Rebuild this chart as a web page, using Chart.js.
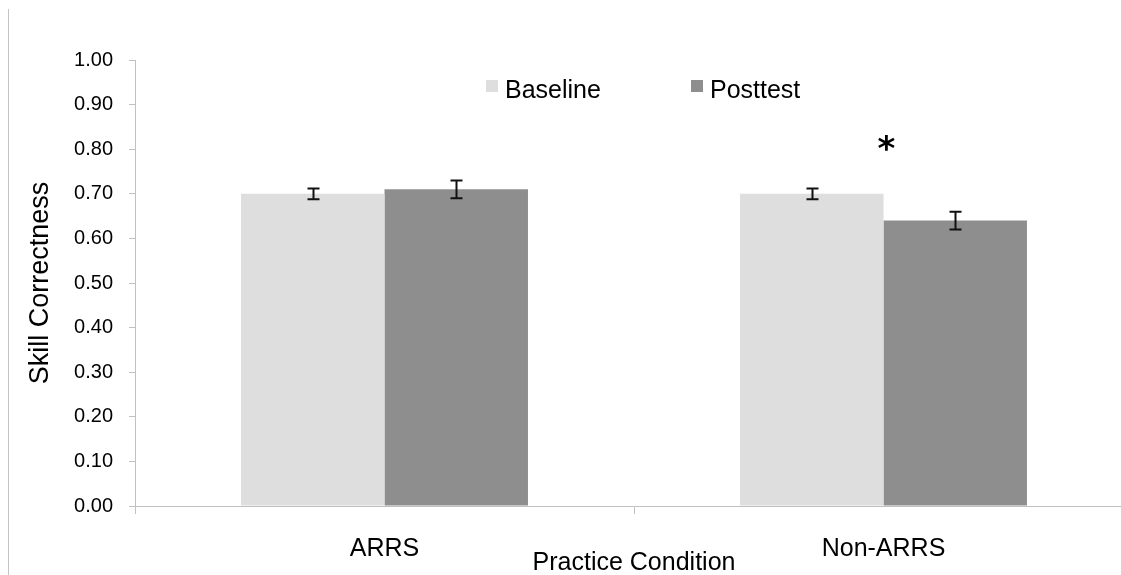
<!DOCTYPE html>
<html>
<head>
<meta charset="utf-8">
<script src="https://cdn.jsdelivr.net/npm/chart.js@4"></script>
<style>
  html, body { margin: 0; padding: 0; background: #fff; overflow: hidden; width: 1121px; height: 575px; }
  #wrap { position: relative; width: 1121px; height: 575px; overflow: hidden; }
  #frame { position: absolute; left: 8px; top: 9px; width: 0; height: 570px; border-left: 1px solid #c4c4c4; }
  canvas { position: absolute; left: 0; top: 0; }
</style>
</head>
<body>
<div id="wrap">
  <div id="frame"></div>
  <canvas id="c" width="1135" height="575"></canvas>
</div>
<script>
// ---- data ----
const categories = ['ARRS', 'Non-ARRS'];
const seriesNames = ['Baseline', 'Posttest'];
const baselineValues = [0.70, 0.70];
const baselineErrors = [0.012, 0.012];
const posttestValues = [0.71, 0.64];
const posttestErrors = [0.02, 0.02];
const yTickValues = [0, 0.1, 0.2, 0.3, 0.4, 0.5, 0.6, 0.7, 0.8, 0.9, 1.0];
const significanceMarks = [{ category: 'Non-ARRS', value: 0.81, text: '*' }];

const FONT = "'Liberation Sans', Arial, sans-serif";

const errorBarPlugin = {
  id: 'errorBars',
  afterDatasetsDraw(chart) {
    const ctx = chart.ctx;
    const y = chart.scales.y;
    ctx.save();
    ctx.strokeStyle = '#111';
    ctx.lineWidth = 2;
    chart.data.datasets.forEach((ds, i) => {
      const meta = chart.getDatasetMeta(i);
      meta.data.forEach((bar, j) => {
        const v = ds.data[j], e = ds.errors[j];
        const x = Math.round(bar.x) + 0.5;
        const yt = y.getPixelForValue(v + e), yb = y.getPixelForValue(v - e);
        ctx.beginPath();
        ctx.moveTo(x, yt); ctx.lineTo(x, yb);
        ctx.moveTo(x - 6, yt); ctx.lineTo(x + 6, yt);
        ctx.moveTo(x - 6, yb); ctx.lineTo(x + 6, yb);
        ctx.stroke();
      });
    });
    // significance marks
    ctx.fillStyle = '#000';
    ctx.font = "bold 34px 'DejaVu Sans', sans-serif";
    ctx.textAlign = 'center';
    ctx.textBaseline = 'middle';
    significanceMarks.forEach(m => {
      const xp = chart.scales.x.getPixelForValue(categories.indexOf(m.category)) + 3;
      ctx.fillText(m.text, xp, y.getPixelForValue(m.value) + 6);
    });
    ctx.restore();
  }
};

const legendPlugin = {
  id: 'customLegend',
  afterDraw(chart) {
    const ctx = chart.ctx;
    const positions = [486, 691];
    ctx.save();
    ctx.font = "25px " + FONT;
    ctx.textBaseline = 'alphabetic';
    ctx.textAlign = 'left';
    chart.data.datasets.forEach((ds, i) => {
      const x0 = positions[i];
      ctx.fillStyle = ds.backgroundColor;
      ctx.fillRect(x0, 80, 12, 12);
      ctx.fillStyle = '#000';
      ctx.fillText(ds.label, x0 + 19, 98);
    });
    ctx.restore();
  }
};

new Chart(document.getElementById('c'), {
  type: 'bar',
  data: {
    labels: categories,
    datasets: [
      { label: seriesNames[0], data: baselineValues, errors: baselineErrors, backgroundColor: '#dedede', borderWidth: 0 },
      { label: seriesNames[1], data: posttestValues, errors: posttestErrors, backgroundColor: '#8e8e8e', borderWidth: 0 }
    ]
  },
  options: {
    responsive: false,
    animation: false,
    layout: { padding: { top: 60, right: 2, left: 0, bottom: 0 } },
    plugins: { legend: { display: false }, tooltip: { enabled: false } },
    datasets: { bar: { categoryPercentage: 0.575, barPercentage: 1.0 } },
    scales: {
      x: {
        grid: { drawOnChartArea: false, drawTicks: true, tickLength: 8, color: '#c0c0c0', lineWidth: 1 },
        border: { display: true, color: '#c0c0c0', width: 1 },
        ticks: { color: '#000', font: { family: FONT, size: 25 }, padding: 20, maxRotation: 0 },
        title: { display: true, text: 'Practice Condition', color: '#000', font: { family: FONT, size: 25 }, padding: { top: 0, bottom: -3 } },
        afterFit(scale) { scale.height = 69; }
      },
      y: {
        min: 0, max: 1,
        afterBuildTicks(scale) { scale.ticks = yTickValues.map(v => ({ value: v })); },
        grid: { drawOnChartArea: false, drawTicks: true, tickLength: 6, color: '#c0c0c0', lineWidth: 1 },
        border: { display: true, color: '#c0c0c0', width: 1 },
        ticks: { color: '#000', font: { family: FONT, size: 20 }, padding: 16, callback: v => Number(v).toFixed(2) },
        title: { display: true, text: 'Skill Correctness', color: '#000', font: { family: FONT, size: 27 }, padding: { top: 24, bottom: 0 } },
        afterFit(scale) { scale.width = 135; }
      }
    }
  },
  plugins: [errorBarPlugin, legendPlugin]
});
</script>
</body>
</html>
